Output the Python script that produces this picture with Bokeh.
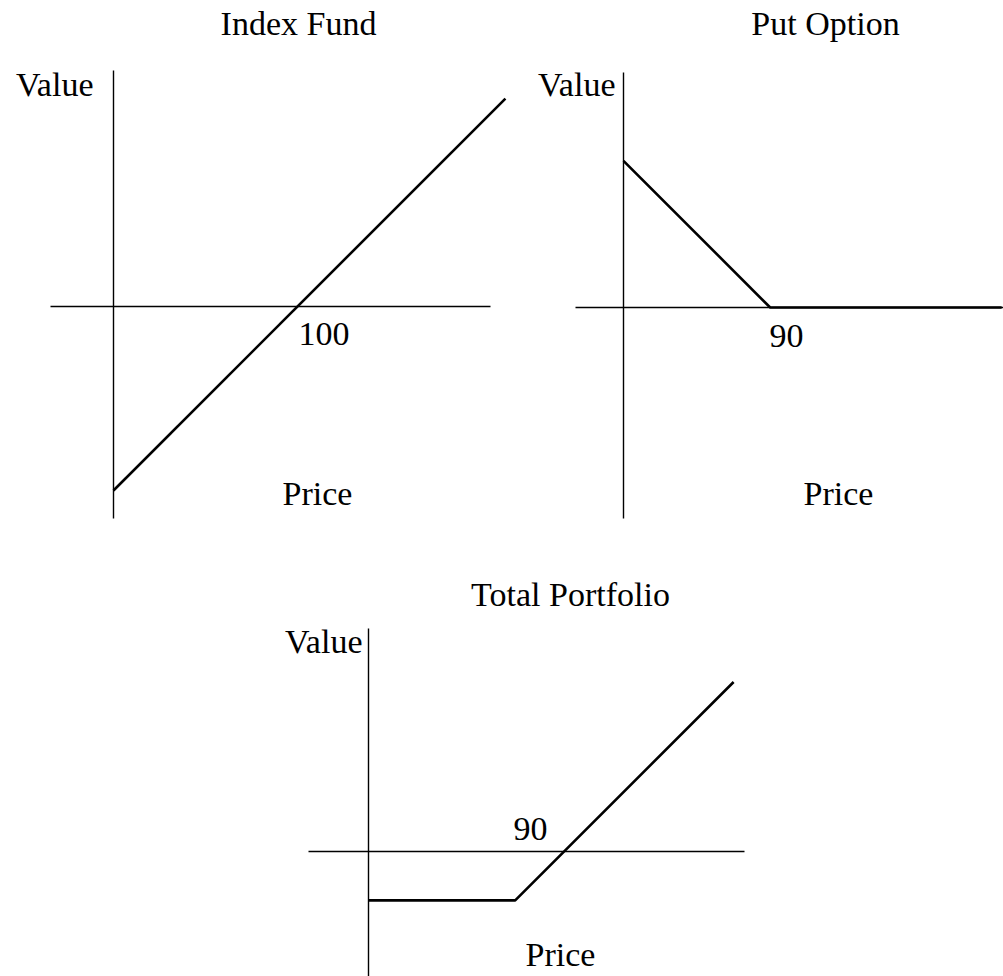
from bokeh.plotting import figure
from bokeh.models import Range1d
from bokeh.core.properties import value
from bokeh.embed import file_html
from bokeh.resources import INLINE

# ---- data (price, value) ----
index_price = [0, 213]
index_value = [-100, 113]

put_price = [0, 90, 232]
put_value = [90, 0, 0]

port_price = [0, 90, 224]
port_value = [-30, -30, 104]

titles = ["Index Fund", "Put Option", "Total Portfolio"]
tick_labels = ["100", "90", "90"]

# ---- layout ----
W, H, M = 1003, 976, 0
FONT = value("Liberation Serif")
FS = "34px"
TSHIFT = 12  # baseline correction for svg text

p = figure(width=W, height=H, output_backend="svg", toolbar_location=None,
           x_axis_location=None, y_axis_location=None, min_border=0,
           x_range=Range1d(0, 1), y_range=Range1d(0, 1))
p.grid.visible = False
p.outline_line_color = None
p.background_fill_color = "white"
p.border_fill_color = "white"

# panel origin (page px) and scale (px per unit)
panels = {
    "a": dict(ox=113, oy=306, s=1.84),
    "b": dict(ox=623, oy=307, s=1.63),
    "c": dict(ox=368, oy=851, s=1.63),
}
xr, yr = {}, {}
for k, d in panels.items():
    xr[k] = Range1d(start=(M - d["ox"]) / d["s"], end=(M + W - d["ox"]) / d["s"])
    yr[k] = Range1d(start=(d["oy"] - (M + H)) / d["s"], end=(d["oy"] - M) / d["s"])
p.extra_x_ranges = xr
p.extra_y_ranges = yr


def dx(k, px):
    d = panels[k]
    return (px - d["ox"]) / d["s"]


def dy(k, py):
    d = panels[k]
    return (d["oy"] - py) / d["s"]


def axes(k, xl, xh, yl, yh):
    p.segment(x0=[dx(k, xl), 0], y0=[0, dy(k, yl)], x1=[dx(k, xh), 0], y1=[0, dy(k, yh)],
              x_range_name=k, y_range_name=k, line_color="black", line_width=1.4)


def txt(k, px, py, t, align):
    p.text(x=[dx(k, px)], y=[dy(k, py - TSHIFT)], text=[t], x_range_name=k, y_range_name=k,
           text_font=FONT, text_font_size=FS, text_color="black",
           text_align=align, text_baseline="alphabetic")


# axes
axes("a", 50, 490, 518, 70)
axes("b", 575, 1003, 518, 72)
axes("c", 308, 744, 976, 628)

# payoff lines
p.line(index_price, index_value, x_range_name="a", y_range_name="a",
       line_color="black", line_width=2.6)
p.line(put_price, put_value, x_range_name="b", y_range_name="b",
       line_color="black", line_width=2.6)
p.line(port_price, port_value, x_range_name="c", y_range_name="c",
       line_color="black", line_width=2.6)

# texts
txt("a", 298, 35, titles[0], "center")
txt("a", 93, 96, "Value", "right")
txt("a", 298, 345, tick_labels[0], "left")
txt("a", 317, 505, "Price", "center")

txt("b", 825, 35, titles[1], "center")
txt("b", 615, 96, "Value", "right")
txt("b", 769, 347, tick_labels[1], "left")
txt("b", 838, 505, "Price", "center")

txt("c", 570, 606, titles[2], "center")
txt("c", 362, 653, "Value", "right")
txt("c", 513, 840, tick_labels[2], "left")
txt("c", 560, 966, "Price", "center")

open("out.html", "w").write(file_html(p, INLINE))
